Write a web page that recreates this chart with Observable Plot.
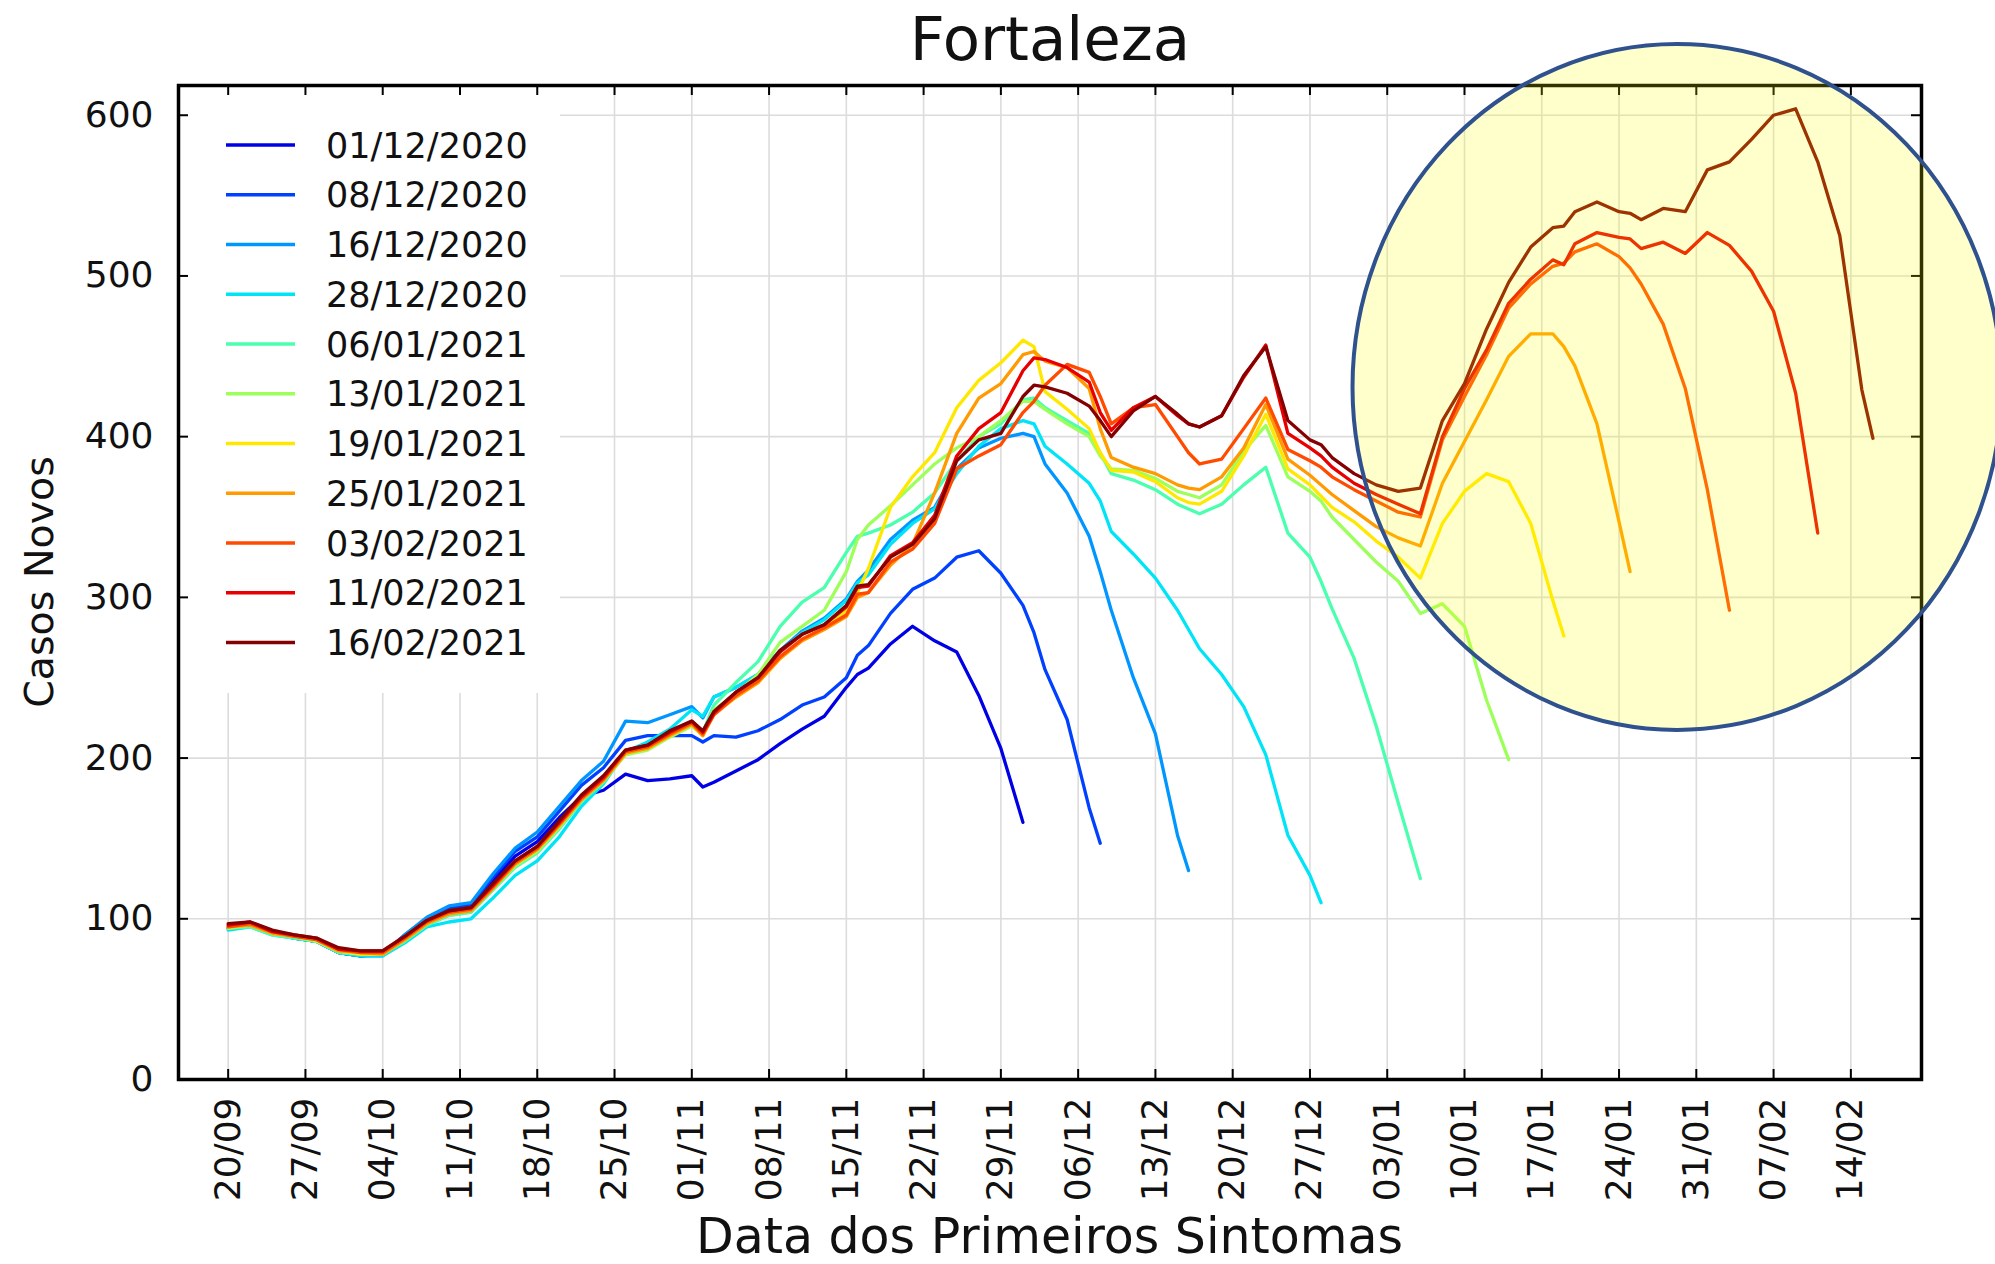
<!DOCTYPE html>
<html>
<head>
<meta charset="utf-8">
<script src="https://cdn.jsdelivr.net/npm/d3@7"></script>
<script src="https://cdn.jsdelivr.net/npm/@observablehq/plot@0.6"></script>
<style>
  html, body { margin: 0; padding: 0; background: #fff; }
  #chart { width: 1995px; height: 1264px; }
</style>
</head>
<body>
<div id="chart"></div>
<script>
// ---------- DATA ----------
const inicio = "2020-09-20"; // day 0 of the grid
// days after 20/09/2020 at which values were read
const dias = [0,2,4,6,8,10,12,14,16,18,20,22,24,26,28,30,32,34,
  36,38,40,42,43,44,46,48,50,52,54,56,57,58,60,62,64,66,68,70,72,73,74,76,78,79,80,82,84,86,87,88,90,92,94,96,98,99,
  100,102,104,106,108,110,112,114,116,118,120,121,122,124,126,127,128,130,132,134,136,138,140,142,144,146,148,149];

const rotulos = ["01/12/2020","08/12/2020","16/12/2020","28/12/2020","06/01/2021","13/01/2021",
                 "19/01/2021","25/01/2021","03/02/2021","11/02/2021","16/02/2021"];

const s0112 = [94,96,91,88,86,79,77,78,89,99,106,108,124,139,148,163,176,180,
  190,186,187,189,182,185,192,199,209,218,226,244,252,256,271,282,273,266,239,206,160];
const s0812 = [94,96,91,88,86,79,77,78,90,100,107,109,126,142,151,167,183,194,
  211,214,214,214,210,214,213,217,224,233,238,250,264,270,290,305,312,325,329,315,295,278,255,224,169,147];
const s1612 = [94,96,91,88,86,79,77,77,90,101,108,110,128,144,154,170,186,198,
  223,222,227,232,225,238,244,252,267,279,287,299,310,317,336,348,356,380,393,399,402,400,383,365,338,316,292,250,215,152,130];
const s2812 = [93,95,90,88,86,79,77,77,85,95,98,100,113,127,136,151,170,184,
  204,210,218,230,226,238,244,252,266,278,286,298,309,314,333,346,355,377,394,405,410,408,394,383,371,360,341,327,312,292,280,268,252,232,202,152,127,110];
const s0601 = [94,95,90,88,86,79,78,78,86,96,102,104,118,132,141,156,173,185,
  203,206,214,222,216,233,247,260,282,297,306,328,338,340,345,353,365,385,400,408,423,424,418,410,402,390,377,373,367,358,355,352,358,370,381,340,325,310,293,262,220,172,125];
const s1301 = [94,96,91,89,86,80,78,78,87,97,103,105,119,133,142,157,174,186,
  202,205,213,220,214,230,240,252,272,282,292,316,336,345,357,370,383,393,400,410,422,422,417,408,400,388,380,379,374,366,364,362,370,391,407,375,366,360,350,336,322,310,290,296,282,236,199];
const s1901 = [95,96,91,89,87,80,78,78,87,97,103,106,120,134,143,158,174,186,
  203,206,214,221,214,228,238,247,262,274,281,292,303,318,356,375,390,418,435,446,460,456,428,417,405,390,379,378,372,362,359,358,366,388,414,380,370,363,356,347,335,325,312,346,366,377,372,346,298,276];
const s2501 = [95,96,91,89,87,80,79,78,87,97,103,105,119,134,143,158,174,186,
  203,206,214,221,214,227,238,247,262,273,280,288,300,303,320,333,365,402,424,433,451,453,447,443,430,405,387,381,377,370,368,367,375,393,420,386,376,370,364,354,344,337,332,371,397,423,450,464,464,456,444,408,347,316];
const s0302 = [95,97,92,89,87,81,79,79,88,98,104,106,120,135,144,159,175,187,
  204,207,215,222,215,227,239,248,263,274,281,289,302,303,322,330,346,380,388,395,415,422,432,445,440,425,408,418,420,400,390,383,386,405,424,392,385,381,375,367,360,353,350,398,425,451,480,495,506,508,515,520,512,505,495,470,430,367,292];
const s1102 = [96,98,92,90,88,81,80,80,89,99,105,107,121,136,145,160,176,188,
  205,208,216,223,216,228,241,250,266,277,283,294,306,307,326,334,351,388,405,415,441,449,448,443,434,415,404,418,425,413,408,406,413,437,457,402,393,388,381,371,364,358,352,400,430,454,483,498,510,507,520,527,524,523,517,521,514,527,519,503,478,427,340];
const s1602 = [97,98,93,90,88,82,80,80,89,99,105,107,122,136,145,161,177,189,
  205,208,217,223,217,229,241,250,267,277,283,295,307,308,325,333,349,385,398,402,425,432,431,427,419,410,400,416,425,414,408,406,413,438,456,410,398,395,387,377,370,366,368,410,433,467,496,518,530,531,540,546,540,539,535,542,540,566,571,585,600,604,571,525,429,399];

const series = [s0112,s0812,s1612,s2812,s0601,s1301,s1901,s2501,s0302,s1102,s1602];

// x tick labels (weekly) and y ticks
const rotulosX = ["20/09","27/09","04/10","11/10","18/10","25/10","01/11","08/11","15/11","22/11","29/11",
                  "06/12","13/12","20/12","27/12","03/01","10/01","17/01","24/01","31/01","07/02","14/02"];
const ticksY = [0,100,200,300,400,500,600];

// ---------- STYLE ----------
const cores = ["#0000E6","#0040FF","#0096FF","#00E4F8","#4AFFAD","#9DFF5A",
               "#FFE800","#FF9A00","#FF4A00","#E80000","#850000"];
const W = 1995, H = 1264, mL = 178, mR = 74, mT = 85, mB = 185;
const fw = W - mL - mR, fh = H - mT - mB;
const lw = 3.3;

// ---------- BUILD ----------
const base = new Date(inicio + "T00:00:00Z");
const toDate = d => new Date(base.getTime() + d * 864e5);
const ticksX = rotulosX.map((_, i) => toDate(i * 7));
const labelOf = d => rotulosX[Math.round((d - base) / 864e5 / 7)];

const dados = series.map((vals, i) =>
  vals.map((v, j) => ({serie: rotulos[i], data: toDate(dias[j]), casos: v})));

function legenda() {
  const g = d3.create("svg:g");
  g.append("rect").attr("x", 180).attr("y", 87).attr("width", 380).attr("height", 606).attr("fill", "white");
  rotulos.forEach((r, i) => {
    const y = 145 + i * 49.75;
    g.append("line").attr("x1", 226).attr("x2", 295).attr("y1", y).attr("y2", y)
      .attr("stroke", cores[i]).attr("stroke-width", lw);
    g.append("text").attr("x", 326).attr("y", y).attr("dy", "0.36em")
      .attr("text-anchor", "start")
      .attr("font-size", 35).attr("fill", "#111").text(r);
  });
  return g.node();
}

const plot = Plot.plot({
  width: W, height: H,
  marginLeft: mL, marginRight: mR, marginTop: mT, marginBottom: mB,
  x: {type: "utc", domain: [toDate(-4.5), toDate(153.4)]},
  y: {domain: [0, 618.5]},
  style: {fontFamily: "'DejaVu Sans', sans-serif", fontSize: "36px", color: "#111", background: "white"},
  marks: [
    Plot.gridX(ticksX, {stroke: "#dcdcdc", strokeOpacity: 1, strokeWidth: 1.6}),
    Plot.gridY(ticksY.slice(1), {stroke: "#dcdcdc", strokeOpacity: 1, strokeWidth: 1.6}),
    ...dados.map((d, i) => Plot.line(d, {x: "data", y: "casos", stroke: cores[i], strokeWidth: lw})),
    legenda,
    Plot.tickX(ticksX, {x: d => d, insetTop: fh - 10, stroke: "black", strokeWidth: 2}),
    Plot.tickX(ticksX, {x: d => d, insetBottom: fh - 10, stroke: "black", strokeWidth: 2}),
    Plot.tickY(ticksY, {y: d => d, insetRight: fw - 10, stroke: "black", strokeWidth: 2}),
    Plot.tickY(ticksY, {y: d => d, insetLeft: fw - 10, stroke: "black", strokeWidth: 2}),
    Plot.frame({stroke: "black", strokeWidth: 3.5}),
    Plot.axisX(ticksX, {tickFormat: labelOf, tickRotate: -90, tickSize: 0, tickPadding: 18, fontSize: 36, label: null}),
    Plot.axisY(ticksY, {tickSize: 0, tickPadding: 25, fontSize: 36, label: null})
  ]
});

const svg = d3.select(plot);
svg.append("text").attr("x", 1050).attr("y", 60).attr("text-anchor", "middle")
  .attr("font-size", 61).attr("fill", "#111").text("Fortaleza");
svg.append("text").attr("x", 1049.5).attr("y", 1253).attr("text-anchor", "middle")
  .attr("font-size", 49).attr("fill", "#111").text("Data dos Primeiros Sintomas");
svg.append("text").attr("transform", "translate(53,582) rotate(-90)").attr("text-anchor", "middle")
  .attr("font-size", 39.5).attr("fill", "#111").text("Casos Novos");

// highlight ellipse, placed through the plot's scales (centre ~29/01/2021, 431 cases)
const destaque = {dia: 131.3, casos: 430.6, raioDias: 29.4, raioCasos: 213.4};
const sx = plot.scale("x"), sy = plot.scale("y");
const cx = sx.apply(toDate(destaque.dia)), cy = sy.apply(destaque.casos);
const rx = sx.apply(toDate(destaque.dia + destaque.raioDias)) - cx;
const ry = cy - sy.apply(destaque.casos + destaque.raioCasos);
svg.append("ellipse").attr("cx", cx).attr("cy", cy).attr("rx", rx).attr("ry", ry)
  .attr("fill", "#FFFF00").attr("fill-opacity", 0.2)
  .attr("stroke", "#2F528F").attr("stroke-width", 4);

document.getElementById("chart").appendChild(plot);
</script>
</body>
</html>
